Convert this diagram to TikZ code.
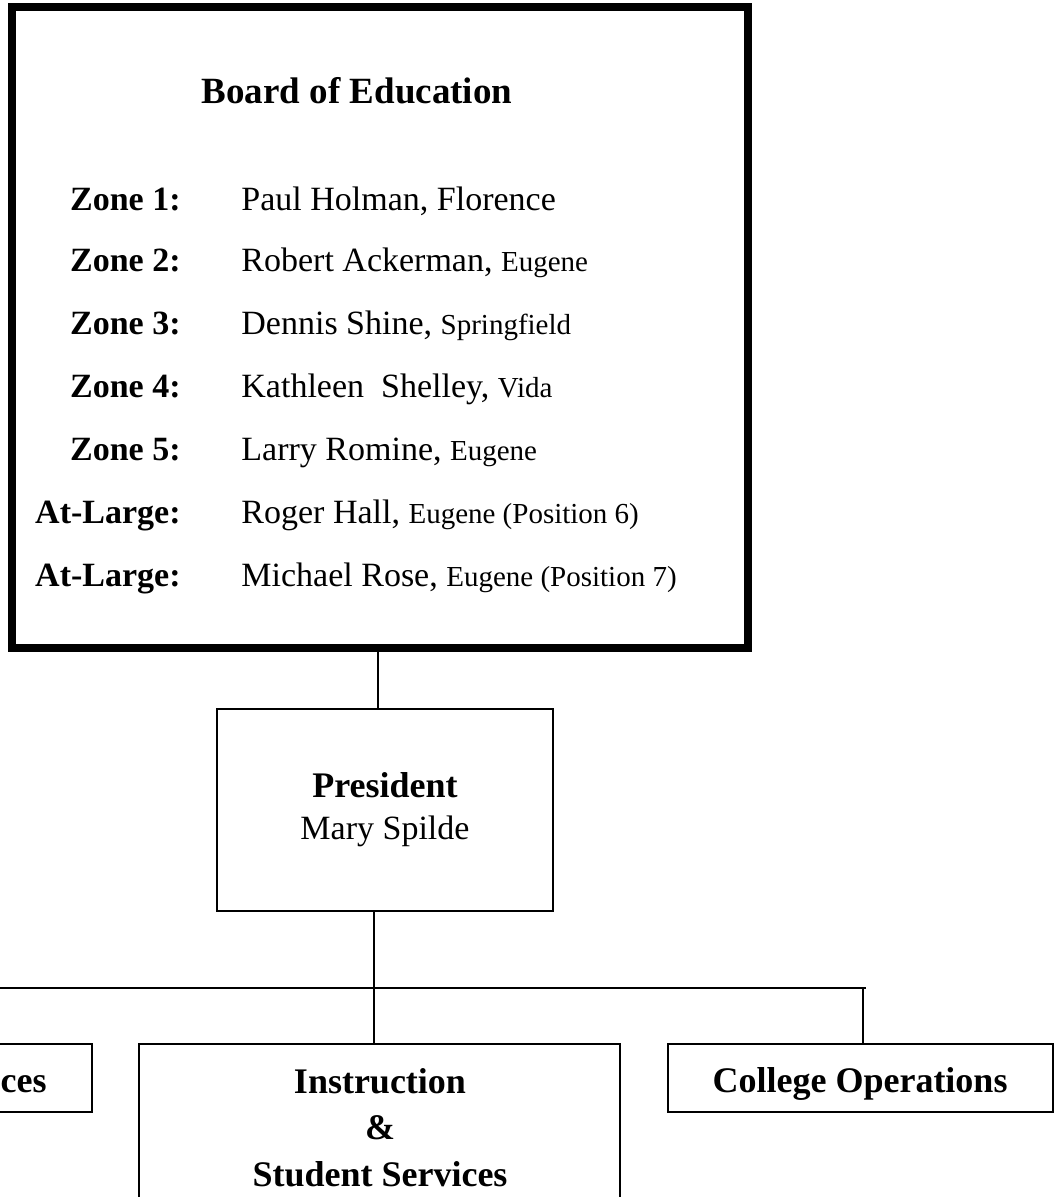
\documentclass[tikz,border=0pt]{standalone}
\usepackage{fontspec}
\setmainfont{Liberation Serif}
\newcommand{\smtxt}[1]{{\fontsize{14.5}{17}\selectfont #1}}
\begin{document}
\begin{tikzpicture}[x=0.5pt,y=-0.5pt,
  thinbox/.style={draw,line width=1pt,inner sep=0pt,outer sep=0pt,rectangle},
  thickbox/.style={draw,line width=4pt,inner sep=0pt,outer sep=0pt,rectangle},
  conn/.style={line width=1pt},
  hdrfont/.style={font=\bfseries\fontsize{18.5}{22}\selectfont},
  lblfont/.style={font=\bfseries\fontsize{17}{20}\selectfont,inner sep=0pt,anchor=base east},
  namefont/.style={font=\fontsize{17}{20}\selectfont,inner sep=0pt,anchor=base west},
  boxbold/.style={font=\bfseries\fontsize{18}{21}\selectfont,inner sep=0pt,anchor=base},
  boxreg/.style={font=\fontsize{17}{20}\selectfont,inner sep=0pt,anchor=base}]
\useasboundingbox (0,0) rectangle (1057,1197);
\clip (0,0) rectangle (1057,1197);
\fill[white] (0,0) rectangle (1057,1197);

% boxes
\node[thickbox,minimum width=368.25pt,minimum height=320.5pt] (board) at (379.75,327.5) {};
\node[thinbox,minimum width=168pt,minimum height=101pt] (pres) at (385,810) {};
\node[thinbox,minimum width=66pt,minimum height=34pt] (left) at (26,1078) {};
\node[thinbox,minimum width=240.5pt,minimum height=93pt] (instr) at (379.5,1137) {};
\node[thinbox,minimum width=192.5pt,minimum height=34pt] (college) at (860.5,1078) {};

% board text
\node[hdrfont,inner sep=0pt,anchor=base] (hdr) at (357,104) {Board of Education};
\node[lblfont] (l1) at (181,211) {Zone 1:};
\node[lblfont] (l2) at (181,272) {Zone 2:};
\node[lblfont] (l3) at (181,335) {Zone 3:};
\node[lblfont] (l4) at (181,398) {Zone 4:};
\node[lblfont] (l5) at (181,460) {Zone 5:};
\node[lblfont] (l6) at (181,523) {At-Large:};
\node[lblfont] (l7) at (181,586) {At-Large:};
\node[namefont] (n1) at (241,211) {Paul Holman, Florence};
\node[namefont] (n2) at (241,272) {Robert Ackerman, \smtxt{Eugene}};
\node[namefont] (n3) at (241,335) {Dennis Shine, \smtxt{Springfield}};
\node[namefont] (n4) at (241,398) {Kathleen\ \ Shelley, \smtxt{Vida}};
\node[namefont] (n5) at (241,460) {Larry Romine, \smtxt{Eugene}};
\node[namefont] (n6) at (241,523) {Roger Hall, \smtxt{Eugene (Position 6)}};
\node[namefont] (n7) at (241,586) {Michael Rose, \smtxt{Eugene (Position 7)}};

% president text
\node[boxbold] (ptitle) at (385,797) {President};
\node[boxreg] (pname) at (385,839) {Mary Spilde};

% lower boxes text
\node[boxbold,anchor=base east] (lefttxt) at (47,1092) {ces};
\node[boxbold] (i1) at (380,1093) {Instruction};
\node[boxbold] (i2) at (380,1139) {\&};
\node[boxbold] (i3) at (380,1186) {Student Services};
\node[boxbold] (ctxt) at (860,1092) {College Operations};

% connectors
\coordinate (k1) at (378,0);
\coordinate (k2) at (374,988);
\coordinate (busL) at (-5,988);
\coordinate (busR) at (866,988);
\coordinate (k3) at (863,988);
\draw[conn] (board.south -| k1) -- (pres.north -| k1);
\draw[conn] (busL) -- (busR);
\draw[conn] (pres.south -| k2) -- (instr.north -| k2);
\draw[conn] (k3) -- (college.north -| k3);
\end{tikzpicture}
\end{document}
